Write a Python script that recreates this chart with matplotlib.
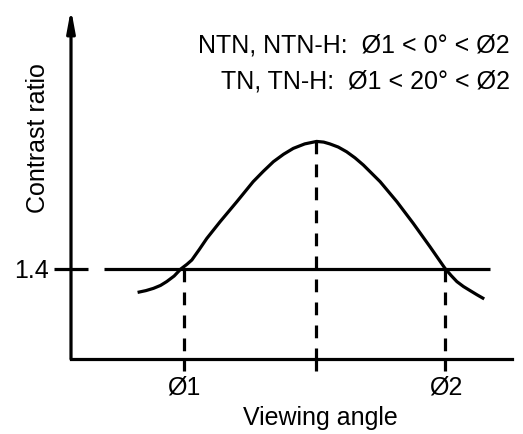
import matplotlib
matplotlib.use("Agg")
import matplotlib.pyplot as plt

plt.rcParams["font.family"] = ["Liberation Sans", "DejaVu Sans"]
plt.rcParams["font.size"] = 18

# schematic contrast-ratio curve (arbitrary angle units, contrast ratio)
curve_x = [15.1, 17.0, 18.7, 20.3, 21.7, 23.4, 24.9, 26.3, 27.4, 29.1, 30.8, 33.8, 37.6, 41.3,
           43.6, 45.9, 48.2, 50.4, 53.0, 55.7, 57.3, 58.7, 60.6, 62.5, 64.4, 66.3, 70.1, 73.9,
           77.6, 81.4, 84.8, 86.2, 87.5, 89.0, 90.5, 92.1, 93.7]
curve_y = [1.296, 1.304, 1.314, 1.327, 1.344, 1.369, 1.400, 1.421, 1.440, 1.487, 1.536, 1.610,
           1.699, 1.788, 1.834, 1.877, 1.910, 1.936, 1.956, 1.967, 1.964, 1.956, 1.942, 1.921,
           1.894, 1.862, 1.788, 1.699, 1.603, 1.499, 1.403, 1.371, 1.344, 1.322, 1.304, 1.285,
           1.267]

threshold = 1.4
threshold_span = [7.5, 95.0]
phi1 = 25.6
phi_peak = 55.6
phi2 = 84.9
peak_value = 1.967

x_ticks = [phi1, phi_peak, phi2]
x_tick_labels = ["Ø1", "", "Ø2"]
notes = ["NTN, NTN-H:  Ø1 < 0° < Ø2", "TN, TN-H:  Ø1 < 20° < Ø2"]

W, H = 523, 434
fig = plt.figure(figsize=(W / 100, H / 100), dpi=100)
ax = fig.add_axes([71 / W, 75 / H, 441 / W, 350 / H])
ax.set_xlim(0, 100)
ax.set_ylim(1.0, 1.0 + 350 / 225)

lw = 2.3
dash = (0, (4.0, 3.2))

ax.plot(curve_x, curve_y, color="black", lw=lw, solid_joinstyle="round", solid_capstyle="butt")
ax.plot(threshold_span, [threshold, threshold], color="black", lw=lw, solid_capstyle="butt")

ax.plot([phi1, phi1], [threshold, 1.0], color="black", lw=lw, linestyle=dash, dash_capstyle="butt")
ax.plot([phi2, phi2], [threshold, 1.0], color="black", lw=lw, linestyle=dash, dash_capstyle="butt")
ax.plot([phi_peak, phi_peak], [peak_value, 1.0], color="black", lw=lw, linestyle=dash,
        dash_capstyle="butt")

# axes: bottom spine plus arrow for the y axis
for side in ["top", "right", "left"]:
    ax.spines[side].set_visible(False)
ax.spines["bottom"].set_linewidth(lw)
ax.annotate("", xy=(0, 1.0), xytext=(0, 0), xycoords="axes fraction",
            arrowprops=dict(arrowstyle="-|>,head_length=0.65,head_width=0.12",
                            lw=lw, color="black", shrinkA=0, shrinkB=0, mutation_scale=20))

ax.set_xticks(x_ticks)
ax.set_xticklabels(x_tick_labels)
ax.tick_params(axis="x", direction="out", length=8.6, width=lw, pad=3)
ax.set_yticks([threshold])
ax.set_yticklabels(["1.4"])
ax.tick_params(axis="y", direction="inout", length=24, width=lw, pad=4)

ax.set_xlabel("Viewing angle")
ax.xaxis.set_label_coords((320 - 71) / 441, (359 - 425) / 350)
ax.xaxis.label.set_verticalalignment("baseline")
ax.set_ylabel("Contrast ratio")
ax.yaxis.set_label_coords(-0.048, 0.63)

fig.text(510 / W, (H - 53) / H, notes[0], ha="right", va="baseline")
fig.text(510 / W, (H - 88) / H, notes[1], ha="right", va="baseline")

fig.savefig("out.png", dpi=100)
